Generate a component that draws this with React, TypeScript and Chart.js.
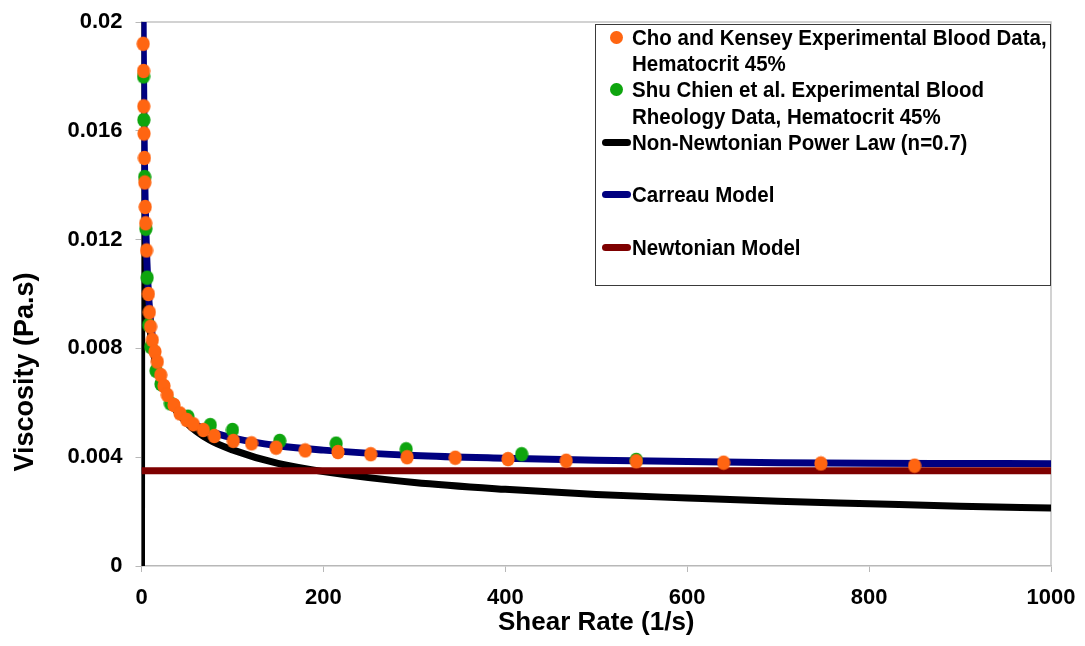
import { useEffect, useRef } from 'react';
import { Chart, registerables } from 'chart.js';

Chart.register(...registerables);

// Cho & Kensey measured blood viscosity (hematocrit 45%)
const choKenseyShear = [1.9, 2.2, 2.5, 2.8, 3.2, 3.6, 4.1, 4.6, 5.5, 7.6, 8.6, 10, 11.9, 14.8, 17.4, 21.1, 24.7, 28.4, 35.7, 42.3, 49.7, 57, 68, 80, 101, 121, 148, 180, 216, 252, 292, 345, 403, 467, 544, 640, 747, 850];
const choKenseyViscosity = [0.0192, 0.0182, 0.0169, 0.0159, 0.015, 0.0141, 0.0132, 0.0126, 0.0116, 0.01, 0.00933, 0.0088, 0.00831, 0.00788, 0.00751, 0.00702, 0.00662, 0.00629, 0.00592, 0.00561, 0.00537, 0.00521, 0.005, 0.00478, 0.0046, 0.00451, 0.00435, 0.00425, 0.00419, 0.00411, 0.004, 0.00398, 0.00393, 0.00387, 0.00385, 0.0038, 0.00377, 0.00369];

// Shu Chien et al. rheology data (hematocrit 45%)
const shuChienShear = [2.2, 2.6, 3.5, 4.8, 6.2, 7.9, 10.1, 16, 21.4, 31.7, 51, 75.6, 100, 152, 214, 291, 418, 544];
const shuChienViscosity = [0.018, 0.0164, 0.0143, 0.0124, 0.0106, 0.00886, 0.00806, 0.00718, 0.00669, 0.00598, 0.00549, 0.00518, 0.005, 0.0046, 0.0045, 0.00429, 0.00411, 0.0039];

// Power-law model, n = 0.7
const powerLawShear = [0, 0.5, 1, 2, 3, 5, 7, 10, 15, 20, 30, 50, 75, 100, 150, 200, 300, 400, 500, 600, 700, 800, 900, 1000];
const powerLawViscosity = [0, 0.0209, 0.017, 0.0138, 0.0122, 0.0105, 0.0095, 0.00852, 0.00752, 0.00693, 0.00612, 0.00525, 0.00463, 0.00427, 0.00377, 0.00347, 0.00307, 0.00282, 0.00263, 0.0025, 0.00238, 0.00229, 0.0022, 0.00213];

// Carreau model
const carreauShear = [0.5, 1, 1.5, 2, 3, 4, 5, 7, 10, 15, 20, 30, 50, 75, 100, 150, 200, 300, 400, 500, 600, 700, 800, 900, 1000];
const carreauViscosity = [0.0378, 0.0271, 0.022, 0.0189, 0.0154, 0.0134, 0.0121, 0.0104, 0.009, 0.00771, 0.00699, 0.00618, 0.00541, 0.00496, 0.00471, 0.00442, 0.00426, 0.00406, 0.00396, 0.00389, 0.00384, 0.0038, 0.00378, 0.00377, 0.00376];

// Newtonian model (constant viscosity)
const newtonianShear = [0, 1000];
const newtonianViscosity = [0.0035, 0.0035];

const xTickLabels = ['0', '200', '400', '600', '800', '1000'];
const yTickLabels = ['0', '0.004', '0.008', '0.012', '0.016', '0.02'];

const X_TITLE = 'Shear Rate (1/s)';
const Y_TITLE = 'Viscosity (Pa.s)';

const ORANGE = '#FF6511';
const GREEN = '#0EA50E';
const NAVY = '#000080';
const BLACK = '#000000';
const MAROON = '#7E0000';

const FONT = "'Liberation Sans', Arial, Helvetica, sans-serif";

const legendItems = [
  { kind: 'dot', color: ORANGE, lines: ['Cho and Kensey Experimental Blood Data,', 'Hematocrit 45%'] },
  { kind: 'dot', color: GREEN, lines: ['Shu Chien et al. Experimental Blood', 'Rheology Data, Hematocrit 45%'] },
  { kind: 'line', color: BLACK, lines: ['Non-Newtonian Power Law (n=0.7)', ''] },
  { kind: 'line', color: NAVY, lines: ['Carreau Model', ''] },
  { kind: 'line', color: MAROON, lines: ['Newtonian Model'] },
];

const toPoints = (xs: number[], ys: number[]) => xs.map((x, i) => ({ x, y: ys[i] }));

function dotImage(color: string) {
  const c = document.createElement('canvas');
  c.width = 14;
  c.height = 16;
  const g = c.getContext('2d')!;
  g.fillStyle = color;
  g.beginPath();
  g.ellipse(7, 8, 6.6, 7.3, 0, 0, Math.PI * 2);
  g.fill();
  return c;
}

// light frame along the top and right of the plotting area
const plotFrame = {
  id: 'plotFrame',
  beforeDatasetsDraw(chart: any) {
    const { ctx, chartArea: a } = chart;
    ctx.save();
    ctx.strokeStyle = '#c4c4c4';
    ctx.lineWidth = 1.5;
    ctx.beginPath();
    ctx.moveTo(a.left, a.top);
    ctx.lineTo(a.right, a.top);
    ctx.lineTo(a.right, a.bottom);
    ctx.stroke();
    ctx.restore();
  },
};

// rotated y-axis title, set a little below the middle of the axis
const yAxisTitle = {
  id: 'yAxisTitle',
  afterDraw(chart: any) {
    const { ctx } = chart;
    ctx.save();
    ctx.translate(26, 372);
    ctx.rotate(-Math.PI / 2);
    ctx.font = `bold 27px ${FONT}`;
    ctx.fillStyle = '#000';
    ctx.textAlign = 'center';
    ctx.textBaseline = 'middle';
    ctx.fillText(Y_TITLE, 0, 0);
    ctx.restore();
  },
};

export default function App() {
  const canvasRef = useRef<HTMLCanvasElement | null>(null);

  useEffect(() => {
    if (!canvasRef.current) return;
    Chart.defaults.font.family = FONT;
    const lineClip = { left: 0, top: 0, right: 0, bottom: 5 };
    const lineBase = {
      showLine: true,
      pointRadius: 0,
      borderWidth: 7,
      cubicInterpolationMode: 'monotone' as const,
      clip: lineClip,
    };
    const chart = new Chart(canvasRef.current, {
      type: 'scatter',
      data: {
        datasets: [
          {
            label: 'Cho and Kensey Experimental Blood Data, Hematocrit 45%',
            data: toPoints(choKenseyShear, choKenseyViscosity),
            pointStyle: dotImage(ORANGE),
            pointRadius: 7,
            showLine: false,
            backgroundColor: ORANGE,
            borderColor: ORANGE,
            clip: false,
            order: 0,
          },
          {
            label: 'Shu Chien et al. Experimental Blood Rheology Data, Hematocrit 45%',
            data: toPoints(shuChienShear, shuChienViscosity),
            pointStyle: dotImage(GREEN),
            pointRadius: 7,
            showLine: false,
            backgroundColor: GREEN,
            borderColor: GREEN,
            clip: false,
            order: 1,
          },
          {
            label: 'Non-Newtonian Power Law (n=0.7)',
            data: toPoints(powerLawShear, powerLawViscosity),
            borderColor: BLACK,
            backgroundColor: BLACK,
            order: 4,
            ...lineBase,
          },
          {
            label: 'Carreau Model',
            data: toPoints(carreauShear, carreauViscosity),
            borderColor: NAVY,
            backgroundColor: NAVY,
            order: 3,
            ...lineBase,
          },
          {
            label: 'Newtonian Model',
            data: toPoints(newtonianShear, newtonianViscosity),
            borderColor: MAROON,
            backgroundColor: MAROON,
            order: 2,
            ...lineBase,
            cubicInterpolationMode: 'default' as const,
          },
        ],
      },
      options: {
        responsive: false,
        maintainAspectRatio: false,
        animation: false,
        events: [],
        layout: { padding: 0 },
        plugins: {
          legend: { display: false },
          tooltip: { enabled: false },
        },
        scales: {
          x: {
            type: 'linear',
            min: 0,
            max: 1000,
            afterFit: (s: any) => {
              s.height = 80;
              s.paddingRight = 34;
            },
            ticks: {
              stepSize: 200,
              color: '#000',
              padding: 13,
              font: { size: 22, weight: 'bold' },
              callback: (_v: any, i: number) => xTickLabels[i],
            },
            grid: { drawOnChartArea: false, drawTicks: true, tickLength: 6, color: '#b8b8b8' },
            border: { display: true, color: '#b8b8b8', width: 1.5 },
            title: {
              display: true,
              text: X_TITLE,
              color: '#000',
              font: { size: 26, weight: 'bold' },
              padding: { top: 0, bottom: 8 },
            },
          },
          y: {
            type: 'linear',
            min: 0,
            max: 0.02,
            afterFit: (s: any) => {
              s.width = 141.5;
              s.paddingTop = 22;
            },
            ticks: {
              stepSize: 0.004,
              color: '#000',
              padding: 13,
              font: { size: 22, weight: 'bold' },
              callback: (_v: any, i: number) => yTickLabels[i],
            },
            grid: { drawOnChartArea: false, drawTicks: true, tickLength: 6, color: '#b8b8b8' },
            border: { display: true, color: '#b8b8b8', width: 1.5 },
            title: { display: false, text: Y_TITLE },
          },
        },
      },
      plugins: [plotFrame, yAxisTitle],
    } as any);
    return () => chart.destroy();
  }, []);

  // legend text rows: vertical centres of each text line
  const rowCentres = [37, 63, 89, 116, 142, 168, 194, 220, 247];
  let row = 0;
  const legendRows: any[] = [];
  legendItems.forEach((item, k) => {
    item.lines.forEach((text, j) => {
      const cy = rowCentres[row++];
      legendRows.push(
        <div key={`${k}-${j}`}>
          {j === 0 && item.kind === 'dot' && (
            <div
              style={{
                position: 'absolute',
                left: 610,
                top: cy - 6.5,
                width: 12.5,
                height: 13,
                borderRadius: '50%',
                background: item.color,
              }}
            />
          )}
          {j === 0 && item.kind === 'line' && (
            <div
              style={{
                position: 'absolute',
                left: 602,
                top: cy - 3.5,
                width: 29,
                height: 7,
                borderRadius: 3.5,
                background: item.color,
              }}
            />
          )}
          {text && (
            <div
              style={{
                position: 'absolute',
                left: 632,
                top: cy - 13,
                height: 26,
                lineHeight: '26px',
                fontFamily: FONT,
                fontWeight: 'bold',
                fontSize: 20.5,
                color: '#000',
                whiteSpace: 'nowrap',
                transform: 'scaleY(1.1)',
                transformOrigin: 'left center',
              }}
            >
              {text}
            </div>
          )}
        </div>
      );
    });
  });

  return (
    <div style={{ position: 'fixed', left: 0, top: 0, width: 1085, height: 646, background: '#fff', overflow: 'hidden' }}>
      <canvas ref={canvasRef} width={1085} height={646} style={{ display: 'block', width: 1085, height: 646 }} />
      <div
        style={{
          position: 'absolute',
          left: 595,
          top: 24,
          width: 456,
          height: 262,
          boxSizing: 'border-box',
          border: '1.5px solid #3a3a3a',
          background: '#fff',
        }}
      />
      {legendRows}
    </div>
  );
}
